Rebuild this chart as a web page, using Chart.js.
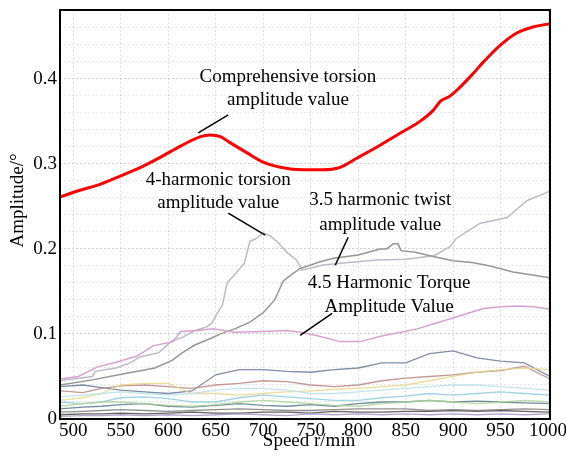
<!DOCTYPE html>
<html>
<head>
<meta charset="utf-8">
<script src="https://cdn.jsdelivr.net/npm/chart.js@4.4.1/dist/chart.umd.min.js"></script>
<style>
html,body{margin:0;padding:0;background:#fff;}
canvas{display:block;}
</style>
</head>
<body>
<canvas id="c" width="566" height="456"></canvas>
<script>
// ---------- DATA ----------
const xTicks = [500, 550, 600, 650, 700, 750, 800, 850, 900, 950, 1000];
const yTicks = [0, 0.1, 0.2, 0.3, 0.4];

// Comprehensive torsion amplitude value (red)
const totalSpeed = [486, 507, 528, 550, 571, 592, 613, 634, 644, 655, 665, 683, 700, 718, 742, 763, 781, 799, 823, 844, 865, 879, 887, 897, 907, 920, 932, 950, 967, 984, 1002];
const totalAmp   = [0.261, 0.269, 0.276, 0.286, 0.296, 0.308, 0.321, 0.332, 0.334, 0.332, 0.325, 0.313, 0.302, 0.296, 0.293, 0.293, 0.296, 0.307, 0.322, 0.336, 0.350, 0.363, 0.374, 0.380, 0.390, 0.405, 0.420, 0.440, 0.454, 0.461, 0.465];

// 4-harmonic torsion amplitude value
const h4Speed = [486, 500, 520, 523, 545, 560, 570, 590, 604, 615, 628, 640, 646, 652, 657, 662, 670, 680, 686, 692, 700, 708, 716, 725, 735, 741, 763, 790, 820, 850, 880, 897, 903, 928, 957, 978, 1002];
const h4Amp   = [0.045, 0.047, 0.050, 0.056, 0.060, 0.066, 0.073, 0.078, 0.092, 0.096, 0.104, 0.108, 0.113, 0.125, 0.134, 0.160, 0.170, 0.183, 0.209, 0.212, 0.219, 0.215, 0.207, 0.196, 0.187, 0.175, 0.181, 0.184, 0.187, 0.188, 0.192, 0.203, 0.212, 0.230, 0.237, 0.257, 0.268];

// 3.5 harmonic twist amplitude value
const h35Speed = [486, 520, 552, 586, 604, 615, 628, 645, 657, 670, 686, 700, 704, 712, 721, 730, 739, 760, 774, 800, 823, 830, 837, 842, 845, 860, 879, 900, 920, 939, 963, 980, 1002];
const h35Amp   = [0.040, 0.046, 0.053, 0.060, 0.069, 0.078, 0.087, 0.095, 0.101, 0.106, 0.114, 0.125, 0.130, 0.140, 0.162, 0.170, 0.177, 0.185, 0.189, 0.193, 0.200, 0.200, 0.206, 0.206, 0.198, 0.196, 0.191, 0.186, 0.184, 0.180, 0.173, 0.170, 0.166];

// 4.5 Harmonic Torque Amplitude Value
const h45Speed = [486, 505, 525, 546, 567, 584, 605, 613, 630, 647, 670, 700, 725, 740, 757, 781, 802, 826, 845, 862, 880, 897, 915, 932, 950, 967, 985, 1002];
const h45Amp   = [0.047, 0.050, 0.061, 0.067, 0.074, 0.086, 0.091, 0.103, 0.104, 0.106, 0.102, 0.103, 0.104, 0.102, 0.098, 0.091, 0.091, 0.098, 0.102, 0.106, 0.112, 0.118, 0.124, 0.130, 0.132, 0.133, 0.132, 0.129];

// other low harmonic orders
const lowSpeed = [486, 510, 530, 550, 575, 600, 625, 650, 675, 700, 725, 750, 775, 800, 825, 850, 875, 900, 925, 950, 975, 1002];
const low1  = [0.038, 0.040, 0.037, 0.034, 0.032, 0.030, 0.033, 0.052, 0.058, 0.058, 0.056, 0.055, 0.058, 0.060, 0.066, 0.066, 0.077, 0.080, 0.072, 0.068, 0.066, 0.050];
const low2  = [0.033, 0.031, 0.036, 0.039, 0.040, 0.038, 0.036, 0.040, 0.042, 0.045, 0.044, 0.040, 0.038, 0.040, 0.045, 0.048, 0.050, 0.052, 0.055, 0.057, 0.062, 0.047];
const low3  = [0.022, 0.025, 0.030, 0.040, 0.042, 0.042, 0.030, 0.030, 0.028, 0.030, 0.032, 0.033, 0.035, 0.036, 0.038, 0.040, 0.045, 0.050, 0.055, 0.058, 0.060, 0.058];
const low4  = [0.020, 0.018, 0.020, 0.025, 0.026, 0.024, 0.020, 0.020, 0.025, 0.028, 0.026, 0.024, 0.022, 0.022, 0.025, 0.027, 0.030, 0.028, 0.030, 0.032, 0.030, 0.028];
const low5  = [0.015, 0.018, 0.020, 0.020, 0.018, 0.016, 0.015, 0.017, 0.020, 0.022, 0.020, 0.018, 0.016, 0.015, 0.018, 0.020, 0.022, 0.020, 0.018, 0.020, 0.022, 0.020];
const low6  = [0.012, 0.014, 0.015, 0.017, 0.018, 0.015, 0.014, 0.016, 0.018, 0.016, 0.015, 0.017, 0.015, 0.018, 0.020, 0.020, 0.022, 0.020, 0.021, 0.020, 0.019, 0.018];
const low7  = [0.008, 0.009, 0.010, 0.011, 0.010, 0.009, 0.010, 0.011, 0.012, 0.011, 0.010, 0.010, 0.011, 0.012, 0.012, 0.012, 0.010, 0.011, 0.010, 0.011, 0.012, 0.011];
const low8  = [0.005, 0.006, 0.006, 0.007, 0.006, 0.007, 0.008, 0.007, 0.007, 0.008, 0.008, 0.007, 0.009, 0.008, 0.008, 0.009, 0.009, 0.010, 0.009, 0.010, 0.009, 0.008];
const low9  = [0.003, 0.004, 0.004, 0.005, 0.004, 0.005, 0.004, 0.005, 0.006, 0.005, 0.004, 0.006, 0.005, 0.006, 0.005, 0.006, 0.005, 0.006, 0.005, 0.006, 0.005, 0.006];
const low10 = [0.026, 0.028, 0.030, 0.032, 0.030, 0.028, 0.030, 0.034, 0.036, 0.036, 0.034, 0.030, 0.030, 0.032, 0.034, 0.036, 0.038, 0.040, 0.040, 0.038, 0.036, 0.034];

// annotation labels (text lines, anchor in data coordinates)
const labels = [
  {lines: ["Comprehensive torsion", "amplitude value"], at: [726, 0.4024, 0.375], leader: [631.6, 0.3364, 663.2, 0.3576]},
  {lines: ["4-harmonic torsion", "amplitude value"], at: [652.6, 0.281, 0.254], leader: [663.2, 0.2421, 702.1, 0.2162]},
  {lines: ["3.5 harmonic twist", "amplitude value"], at: [823.2, 0.2574, 0.228], leader: [789.5, 0.2138, 775.8, 0.1808]},
  {lines: ["4.5 Harmonic Torque", "Amplitude Value"], at: [832.6, 0.1596, 0.1314], leader: [772.6, 0.1243, 738.9, 0.0984]}
];

// ---------- BUILD ----------
const pts = (xs, ys) => xs.map((x, i) => ({x: x, y: ys[i]}));
const FONT = "'Liberation Serif', 'Times New Roman', serif";

const lowSets = [
  [low10, 'rgba(190,225,235,0.9)'],
  [low3, 'rgba(232,215,140,0.85)'],
  [low5, 'rgba(175,210,150,0.85)'],
  [low4, 'rgba(150,205,225,0.9)'],
  [low2, 'rgba(190,140,140,0.9)'],
  [low1, 'rgba(120,135,160,0.95)'],
  [low6, 'rgba(95,130,145,0.9)'],
  [low7, 'rgba(130,130,130,0.9)'],
  [low9, 'rgba(170,155,200,0.9)'],
  [low8, 'rgba(80,80,80,0.9)']
];

const datasets = [];
lowSets.forEach(([arr, col]) => {
  datasets.push({data: pts(lowSpeed, arr), borderColor: col, borderWidth: 1.3, pointRadius: 0, tension: 0});
});
datasets.push({data: pts(h45Speed, h45Amp), borderColor: 'rgba(215,160,210,1)', borderWidth: 1.5, pointRadius: 0, tension: 0});
datasets.push({data: pts(h35Speed, h35Amp), borderColor: 'rgba(150,150,150,1)', borderWidth: 1.5, pointRadius: 0, tension: 0});
datasets.push({data: pts(h4Speed, h4Amp), borderColor: 'rgba(190,185,200,1)', borderWidth: 1.5, pointRadius: 0, tension: 0});
datasets.push({data: pts(totalSpeed, totalAmp), borderColor: '#ff0000', borderWidth: 3, pointRadius: 0, cubicInterpolationMode: 'monotone'});

const decor = {
  id: 'decor',
  afterDatasetsDraw(chart) {
    const {ctx, chartArea: a, scales: {x, y}} = chart;
    ctx.save();
    // frame
    ctx.strokeStyle = '#000';
    ctx.lineWidth = 2;
    ctx.strokeRect(a.left, a.top, a.right - a.left, a.bottom - a.top);
    // annotations
    ctx.fillStyle = '#000';
    ctx.font = '19px ' + FONT;
    ctx.textAlign = 'center';
    ctx.textBaseline = 'middle';
    labels.forEach(l => {
      const px = x.getPixelForValue(l.at[0]);
      ctx.fillText(l.lines[0], px, y.getPixelForValue(l.at[1]));
      ctx.fillText(l.lines[1], px, y.getPixelForValue(l.at[2]));
      ctx.beginPath();
      ctx.lineWidth = 1.5;
      ctx.moveTo(x.getPixelForValue(l.leader[0]), y.getPixelForValue(l.leader[1]));
      ctx.lineTo(x.getPixelForValue(l.leader[2]), y.getPixelForValue(l.leader[3]));
      ctx.stroke();
    });
    // axis titles
    ctx.fillText('Speed r/min', (a.left + a.right) / 2 + 4, a.bottom + 22);
    ctx.translate(a.left - 42, (a.top + a.bottom) / 2 - 14);
    ctx.rotate(-Math.PI / 2);
    ctx.fillText('Amplitude/°', 0, 0);
    ctx.restore();
  }
};

new Chart(document.getElementById('c'), {
  type: 'line',
  data: {datasets: datasets},
  options: {
    responsive: false,
    animation: false,
    devicePixelRatio: 1,
    layout: {padding: {left: 0, right: 16, top: 10, bottom: 0}},
    plugins: {legend: {display: false}, tooltip: {enabled: false}},
    scales: {
      x: {
        type: 'linear', min: 486, max: 1002,
        afterBuildTicks: s => { s.ticks = xTicks.map(v => ({value: v})); },
        afterFit: s => { s.height = 37; s.paddingLeft = 0; s.paddingRight = 0; },
        ticks: {autoSkip: false, maxRotation: 0, padding: 1, color: '#000', font: {family: FONT, size: 19}, callback: v => String(v)},
        grid: {color: 'rgba(150,150,150,0.28)', drawTicks: false},
        border: {display: false, dash: [2, 2]}
      },
      y: {
        type: 'linear', min: 0, max: 0.481,
        afterBuildTicks: s => { s.ticks = yTicks.map(v => ({value: v})); },
        afterFit: s => { s.width = 60; s.paddingTop = 0; s.paddingBottom = 0; },
        ticks: {autoSkip: false, padding: 3, color: '#000', font: {family: FONT, size: 19}, callback: v => (v === 0 ? '0' : v.toFixed(1))},
        grid: {color: 'rgba(150,150,150,0.28)', drawTicks: false},
        border: {display: false, dash: [2, 2]}
      },
      y2: {
        type: 'linear', min: 0, max: 0.481, position: 'left',
        afterBuildTicks: s => { const t = []; for (let i = 1; i <= 24; i++) t.push({value: i * 0.02}); s.ticks = t; },
        afterFit: s => { s.width = 0; s.paddingTop = 0; s.paddingBottom = 0; },
        ticks: {display: false},
        grid: {color: 'rgba(150,150,150,0.24)', drawTicks: false},
        border: {display: false, dash: [2, 2]}
      }
    }
  },
  plugins: [decor]
});
</script>
</body>
</html>
